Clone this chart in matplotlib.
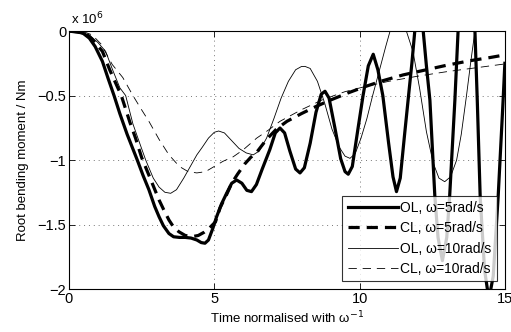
import matplotlib
matplotlib.use("Agg")
import matplotlib.pyplot as plt

plt.rcParams['font.family'] = ['Liberation Sans', 'DejaVu Sans']

# values in units of 1e6 Nm
t_ol5 = [0.0, 0.3, 0.5, 0.7, 0.9, 1.15, 1.35, 1.55, 1.75, 2.0, 2.35, 2.55, 2.75, 2.95, 3.1, 3.25,
         3.44, 3.6, 3.8, 4.0, 4.2, 4.4, 4.55, 4.68, 4.8, 4.95, 5.08, 5.25, 5.42, 5.6, 5.77, 5.95,
         6.12, 6.28, 6.45, 6.65, 6.91, 7.1, 7.26, 7.42, 7.6, 7.8, 7.95, 8.1, 8.3, 8.5, 8.68, 8.81,
         8.95, 9.15, 9.35, 9.5, 9.61, 9.75, 9.95, 10.12, 10.3, 10.47, 10.63, 10.8, 11.0, 11.15,
         11.27, 11.4, 11.55, 11.67, 11.8, 11.9, 12.05, 12.19, 12.3, 12.42, 12.59, 12.7, 12.85,
         13.0, 13.1, 13.28, 13.39, 13.5, 13.67, 13.85, 13.97, 14.05, 14.15, 14.3, 14.45, 14.6,
         14.77, 14.94, 15.0]
v_ol5 = [0.0, -0.005, -0.02, -0.055, -0.12, -0.235, -0.37, -0.5, -0.64, -0.8, -1.0, -1.12, -1.23,
         -1.36, -1.44, -1.51, -1.57, -1.595, -1.6, -1.6, -1.605, -1.62, -1.64, -1.645, -1.62, -1.53,
         -1.44, -1.34, -1.26, -1.18, -1.155, -1.18, -1.235, -1.245, -1.19, -1.07, -0.92, -0.79,
         -0.752, -0.79, -0.93, -1.07, -1.10, -1.06, -0.87, -0.63, -0.49, -0.467, -0.52, -0.75,
         -0.99, -1.09, -1.11, -1.05, -0.75, -0.5, -0.27, -0.18, -0.3, -0.5, -0.87, -1.13, -1.245,
         -1.14, -0.8, -0.535, -0.25, 0.0, 0.2, 0.0, -0.27, -0.535, -1.28, -1.6, -1.78, -1.6, -1.28,
         -0.535, 0.0, 0.4, 0.6, 0.4, 0.0, -0.535, -1.28, -1.85, -2.08, -1.9, -1.28, -0.535, -0.25]

t_cl5 = [0.0, 0.5, 0.7, 0.9, 1.15, 1.4, 1.8, 2.1, 2.29, 2.5, 2.7, 2.9, 3.1, 3.27, 3.44, 3.6, 3.78,
         4.0, 4.24, 4.45, 4.65, 4.82, 5.04, 5.2, 5.42, 5.6, 5.8, 6.05, 6.25, 6.46, 6.8, 7.14, 7.5,
         8.0, 8.5, 9.0, 9.6, 10.2, 10.8, 11.5, 12.2, 13.0, 13.8, 14.5, 15.0]
v_cl5 = [0.0, -0.015, -0.04, -0.09, -0.157, -0.3, -0.5, -0.71, -0.83, -0.98, -1.09, -1.2, -1.31,
         -1.39, -1.465, -1.52, -1.556, -1.585, -1.594, -1.585, -1.56, -1.53, -1.48, -1.37, -1.27,
         -1.18, -1.11, -1.03, -0.98, -0.94, -0.84, -0.76, -0.70, -0.64, -0.585, -0.535, -0.48,
         -0.43, -0.385, -0.34, -0.305, -0.265, -0.23, -0.205, -0.185]

t_ol10 = [0.0, 0.5, 0.8, 1.0, 1.26, 1.5, 1.75, 1.95, 2.2, 2.45, 2.64, 2.9, 3.1, 3.3, 3.5, 3.7, 3.95,
          4.2, 4.4, 4.59, 4.8, 5.0, 5.15, 5.35, 5.6, 5.85, 6.1, 6.34, 6.55, 6.8, 7.05, 7.3, 7.55,
          7.8, 8.0, 8.12, 8.3, 8.55, 8.8, 9.05, 9.3, 9.5, 9.67, 9.85, 10.05, 10.25, 10.45, 10.7,
          10.9, 11.05, 11.2, 11.33, 11.46, 11.61, 11.84, 12.07, 12.3, 12.53, 12.73, 12.93, 13.13,
          13.34, 13.5, 13.68, 13.82, 13.97, 14.2, 14.5, 14.8, 15.0]
v_ol10 = [0.0, -0.01, -0.05, -0.09, -0.157, -0.3, -0.44, -0.5, -0.72, -0.88, -1.0, -1.14, -1.21,
          -1.25, -1.258, -1.23, -1.14, -1.04, -0.96, -0.9, -0.83, -0.785, -0.775, -0.79, -0.85,
          -0.91, -0.945, -0.96, -0.93, -0.83, -0.68, -0.52, -0.39, -0.3, -0.275, -0.274, -0.29,
          -0.39, -0.56, -0.76, -0.9, -0.97, -0.987, -0.95, -0.83, -0.68, -0.5, -0.29, -0.12, 0.0,
          0.06, 0.08, 0.06, 0.0, -0.16, -0.45, -0.78, -1.02, -1.14, -1.168, -1.13, -1.0, -0.8,
          -0.5, -0.25, 0.0, 0.25, 0.4, 0.25, 0.02]

t_cl10 = [0.0, 0.5, 0.8, 1.1, 1.49, 1.85, 2.2, 2.47, 2.75, 3.1, 3.44, 3.8, 4.1, 4.4, 4.7, 5.0, 5.3,
          5.65, 6.0, 6.46, 6.85, 7.26, 8.0, 8.75, 9.5, 10.2, 11.0, 12.0, 13.0, 14.0, 15.0]
v_cl10 = [0.0, -0.005, -0.03, -0.1, -0.26, -0.36, -0.5, -0.6, -0.70, -0.84, -0.96, -1.05, -1.09,
          -1.10, -1.09, -1.05, -1.01, -0.975, -0.92, -0.83, -0.77, -0.70, -0.61, -0.53, -0.47,
          -0.43, -0.39, -0.35, -0.315, -0.285, -0.255]

labels = ['OL, \u03c9=5rad/s', 'CL, \u03c9=5rad/s', 'OL, \u03c9=10rad/s', 'CL, \u03c9=10rad/s']
xticks = [0, 5, 10, 15]
yticks = [0, -0.5, -1, -1.5, -2]
ytick_labels = ['0', '\u22120.5', '\u22121', '\u22121.5', '\u22122']

fig = plt.figure(figsize=(5.11, 3.32), dpi=100)
ax = fig.add_axes([0.135, 0.1295, 0.853, 0.777])

ax.plot(t_ol5, v_ol5, color='black', lw=2.3, ls='-', label=labels[0])
ax.plot(t_cl5, v_cl5, color='black', lw=2.3, ls=(0, (3.5, 2.2)), label=labels[1])
ax.plot(t_ol10, v_ol10, color='black', lw=0.6, ls='-', label=labels[2])
ax.plot(t_cl10, v_cl10, color='black', lw=0.6, ls=(0, (10, 7)), label=labels[3])

ax.set_xlim(0, 15)
ax.set_ylim(-2, 0)
ax.set_xticks(xticks)
ax.set_xticklabels([str(x) for x in xticks])
ax.set_yticks(yticks)
ax.set_yticklabels(ytick_labels)
ax.tick_params(direction='in', top=True, right=True, length=4, width=0.6, labelsize=10.5, pad=2)
for s in ax.spines.values():
    s.set_linewidth(0.8)
ax.grid(True, ls=(0, (1, 4)), color='#777777', lw=0.7)

ax.set_xlabel('Time normalised with \u03c9$^{-1}$', fontsize=9.5, labelpad=3)
ax.set_ylabel('Root bending moment / Nm', fontsize=9.5, labelpad=6)
fig.text(0.135 + 0.004, 0.918, 'x 10$^6$', fontsize=9.5, ha='left', va='bottom')

leg = ax.legend(loc='lower right', fontsize=10, handlelength=3.6, frameon=True, fancybox=False,
                edgecolor='black', borderpad=0.4, labelspacing=0.45, handletextpad=0.2,
                borderaxespad=0.55)
leg.get_frame().set_linewidth(0.8)

fig.savefig('out.png', dpi=100)
